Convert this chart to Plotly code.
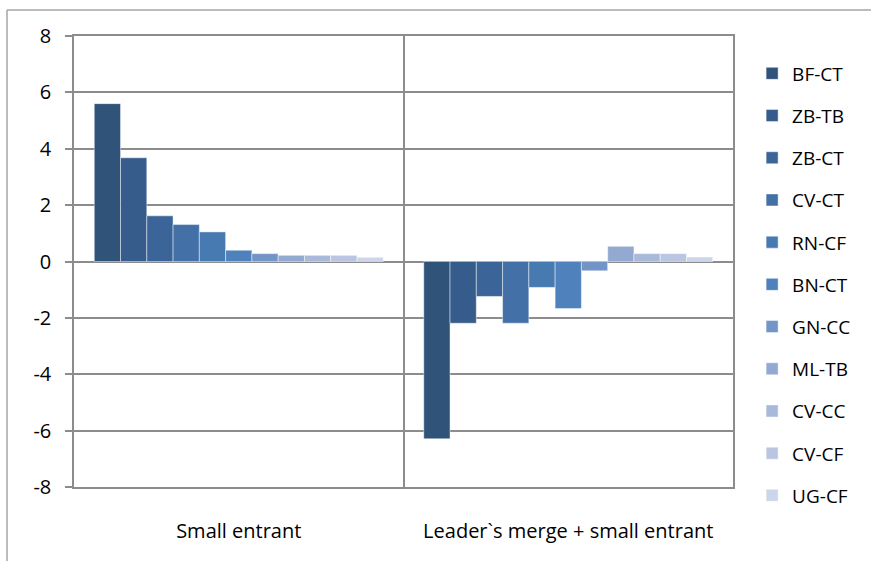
import plotly.graph_objects as go

# Scenario categories on the x axis
categories = ["Small entrant", "Leader`s merge + small entrant"]

# One series per merger pair
series_names = ["BF-CT", "ZB-TB", "ZB-CT", "CV-CT", "RN-CF", "BN-CT",
                "GN-CC", "ML-TB", "CV-CC", "CV-CF", "UG-CF"]

small_entrant = [5.60, 3.68, 1.62, 1.31, 1.05, 0.40, 0.28, 0.22, 0.22, 0.22, 0.15]
leader_merge = [-6.29, -2.19, -1.24, -2.19, -0.92, -1.67, -0.33, 0.54, 0.28, 0.28, 0.16]

colors = ["#30537A", "#365C8B", "#3B6598", "#4371A7", "#487AB2", "#4F81BD",
          "#7394C6", "#93A9D2", "#A8B9DA", "#BAC6E1", "#CDD6E8"]

y_ticks = [-8, -6, -4, -2, 0, 2, 4, 6, 8]
y_tick_text = [str(v) for v in y_ticks]  # plain hyphen for negatives

FONT = "Open Sans"
GRID = "#8C8C8C"

fig = go.Figure()
for i, name in enumerate(series_names):
    fig.add_trace(go.Bar(
        x=categories,
        y=[small_entrant[i], leader_merge[i]],
        name=name,
        legendgroup=name,
        marker=dict(color=colors[i], line=dict(color="rgba(255,255,255,0.45)", width=1)),
    ))

fig.update_layout(
    width=871, height=561,
    margin=dict(l=74, r=138, t=36, b=74),
    paper_bgcolor="white", plot_bgcolor="white",
    barmode="group", bargap=0.123, bargroupgap=0,
    font=dict(family=FONT, size=20, color="#000000"),
    legend=dict(
        x=1.029, xanchor="left", y=0.449, yanchor="middle",
        font=dict(family=FONT, size=19), tracegroupgap=14.5,
        bgcolor="rgba(0,0,0,0)", itemwidth=30, maxheight=550,
    ),
    showlegend=True,
    shapes=[
        # outer chart frame (top and left edges)
        dict(type="line", xref="paper", yref="paper",
             x0=-67 / 659, x1=1 + 140 / 659, y0=1 + 26 / 451, y1=1 + 26 / 451,
             line=dict(color="#A6A6A6", width=1.5)),
        dict(type="line", xref="paper", yref="paper",
             x0=-67 / 659, x1=-67 / 659, y0=1 + 26 / 451, y1=-80 / 451,
             line=dict(color="#A6A6A6", width=1.5)),
    ],
)

fig.update_xaxes(
    type="category",
    tickson="boundaries",
    showgrid=True, gridcolor=GRID, gridwidth=1.5,
    showline=True, linecolor=GRID, linewidth=1.5, mirror=True,
    ticks="", tickfont=dict(family=FONT, size=20),
    ticklabelstandoff=25,
)
fig.update_yaxes(
    range=[-8, 8], tickvals=y_ticks, ticktext=y_tick_text,
    showgrid=True, gridcolor=GRID, gridwidth=1.5,
    showline=True, linecolor=GRID, linewidth=1.5, mirror=True,
    ticks="outside", ticklen=7, tickcolor=GRID, tickwidth=1.5,
    zeroline=True, zerolinecolor=GRID, zerolinewidth=1.5,
    tickfont=dict(family=FONT, size=20),
    ticklabelstandoff=10,
)

fig.write_html("out.html")
